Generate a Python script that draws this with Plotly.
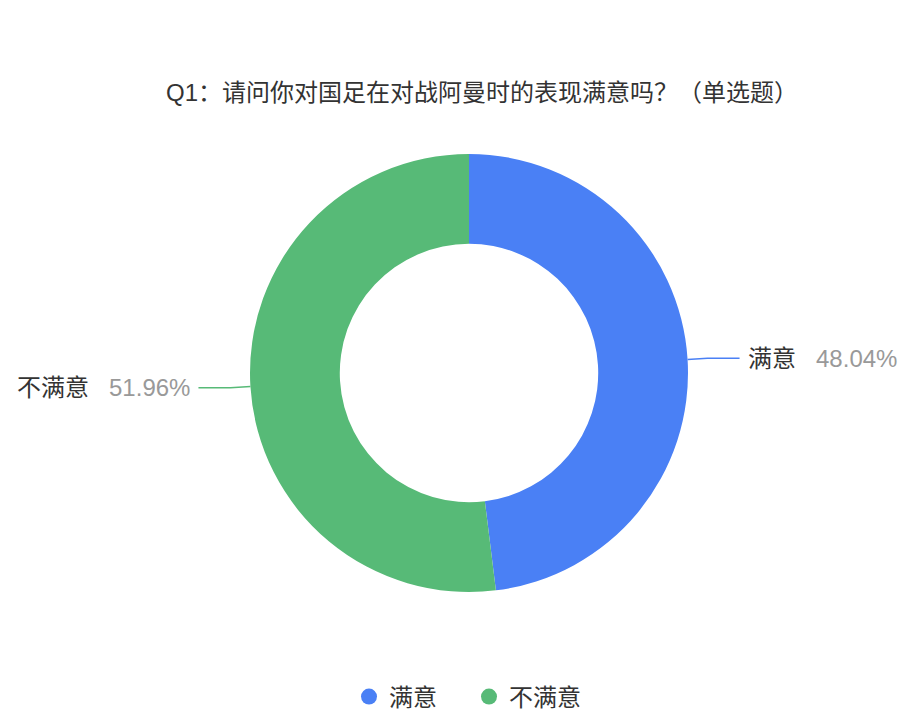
import math
import plotly.graph_objects as go

# survey result
title_text = "Q1：请问你对国足在对战阿曼时的表现满意吗？（单选题）"
labels = ["满意", "不满意"]
percents = [48.04, 51.96]
colors = ["#4a80f5", "#57ba77"]

# page body has an 8px margin, so the figure is 8px smaller and coords shifted
PAD = 8
W, H = 908 - PAD, 726 - PAD
cx, cy, R = 469 - PAD, 373 - PAD, 219
hole = 0.59
FONT = "Liberation Sans, Noto Sans CJK SC, sans-serif"

fig = go.Figure()

fig.add_trace(go.Pie(
    labels=labels,
    values=percents,
    marker=dict(colors=colors, line=dict(color="white", width=0)),
    hole=hole,
    sort=False,
    direction="clockwise",
    rotation=0,
    textinfo="none",
    hoverinfo="label+percent",
    showlegend=False,
    domain=dict(x=[(cx - R) / W, (cx + R) / W], y=[1 - (cy + R) / H, 1 - (cy - R) / H]),
))

# leader lines + labels, computed from each slice's mid angle
total = sum(percents)
start = 0
annotations = []
for lab, val, col in zip(labels, percents, colors):
    mid = (start + val / 2) / total * 2 * math.pi
    start += val
    sx, sy = math.sin(mid), -math.cos(mid)
    side = 1 if sx >= 0 else -1
    x0, y0 = cx + R * sx, cy + R * sy
    x1, y1 = cx + (R + 20) * sx, cy + (R + 20) * sy
    x2 = x1 + side * 32
    fig.add_trace(go.Scatter(
        x=[x0, x1, x2], y=[y0, y1, y1], mode="lines",
        line=dict(color=col, width=1.5), showlegend=False, hoverinfo="skip",
    ))
    annotations.append(dict(
        x=x2 + side * 6, y=y1, xref="x", yref="y",
        text=f"{lab}   <span style='color:#999999'>{val:.2f}%</span>",
        showarrow=False, xanchor="left" if side > 0 else "right", yanchor="middle",
        font=dict(family=FONT, size=24, color="#333333"),
    ))

# circle legend entries
for lab, col in zip(labels, colors):
    fig.add_trace(go.Scatter(
        x=[None], y=[None], mode="markers", name=lab,
        marker=dict(color=col, size=17, symbol="circle"),
    ))

annotations.append(dict(
    x=(482 - PAD) / W, y=1 - (93 - PAD) / H, xref="paper", yref="paper",
    text=title_text, showarrow=False, xanchor="center", yanchor="middle",
    font=dict(family=FONT, size=24, color="#333333"),
))

fig.update_layout(
    width=W, height=H,
    margin=dict(l=0, r=0, t=0, b=0),
    paper_bgcolor="white",
    plot_bgcolor="rgba(0,0,0,0)",
    xaxis=dict(range=[0, W], visible=False, fixedrange=True),
    yaxis=dict(range=[H, 0], visible=False, fixedrange=True),
    annotations=annotations,
    legend=dict(
        orientation="h", x=(349 - PAD) / W, xanchor="left",
        y=1 - (697 - PAD) / H, yanchor="middle",
        font=dict(family=FONT, size=24, color="#333333"),
        itemwidth=30, traceorder="normal",
        entrywidth=75, entrywidthmode="pixels",
    ),
    showlegend=True,
)

fig.write_html("out.html")
